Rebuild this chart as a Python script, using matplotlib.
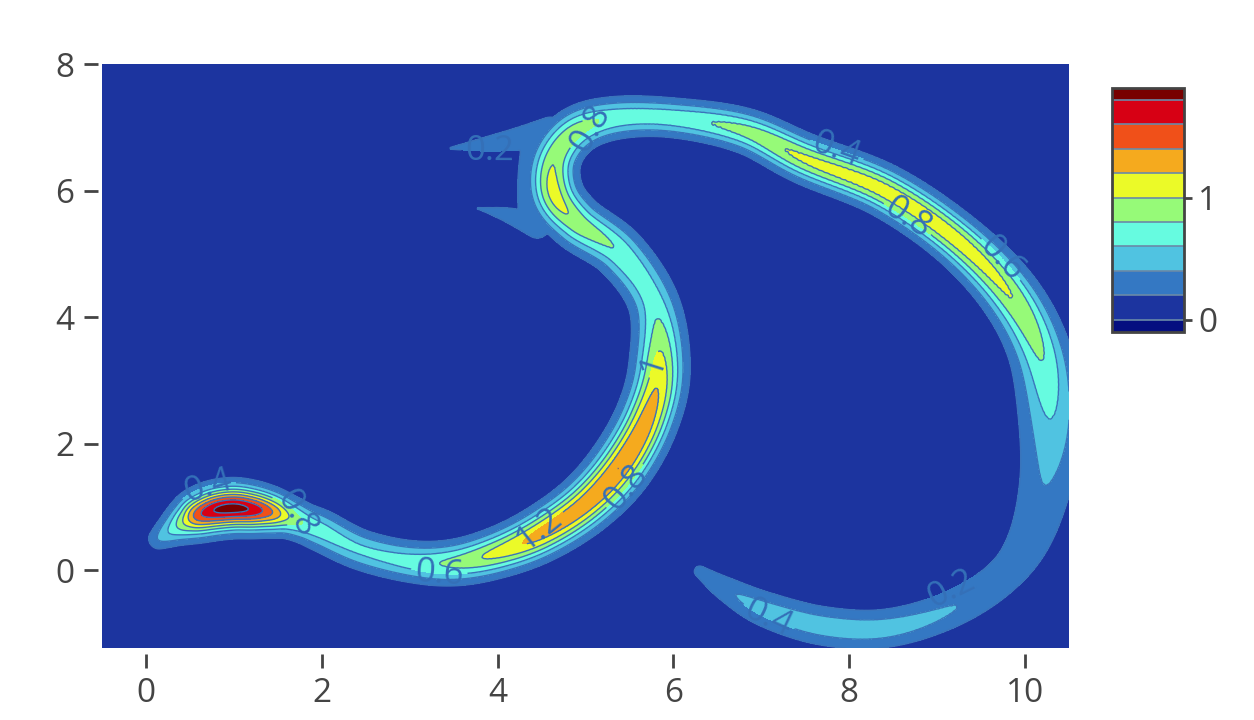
import numpy as np
import matplotlib
matplotlib.use("Agg")
import matplotlib.pyplot as plt

plt.rcParams["font.family"] = ["Open Sans", "DejaVu Sans"]

# ridge of the contour surface: centre x, centre y, peak z, width
main_x = [0.15, 0.35, 0.50, 0.62, 0.80, 1.00, 1.20, 1.40, 1.60, 1.80, 2.00, 2.45, 3.00, 3.50,
          4.00, 4.50, 5.00, 5.40, 5.70, 5.84, 5.78, 5.40, 4.90, 4.65, 4.65, 4.90, 5.35, 6.00,
          6.80, 7.50, 8.40, 9.20, 9.80, 10.15, 10.28, 10.25, 10.05, 9.70, 9.10, 8.40, 7.70,
          7.05, 6.60, 6.30]
main_y = [0.50, 0.68, 0.80, 0.88, 0.95, 0.98, 0.96, 0.92, 0.85, 0.74, 0.62, 0.32, 0.14, 0.12,
          0.28, 0.58, 1.05, 1.65, 2.40, 3.20, 4.20, 5.00, 5.50, 5.95, 6.50, 6.95, 7.15, 7.15,
          6.95, 6.50, 6.00, 5.25, 4.40, 3.50, 2.50, 1.50, 0.50, -0.15, -0.65, -0.92, -0.88,
          -0.62, -0.30, -0.02]
main_z = [0.40, 0.75, 1.15, 1.55, 1.82, 1.885, 1.76, 1.45, 1.02, 0.78, 0.70, 0.64, 0.70, 0.86,
          1.08, 1.28, 1.36, 1.40, 1.32, 1.10, 0.74, 0.78, 0.95, 1.08, 0.98, 0.90, 0.75, 0.74,
          0.88, 1.05, 1.12, 1.12, 1.02, 0.84, 0.62, 0.42, 0.33, 0.33, 0.42, 0.50, 0.51, 0.47,
          0.37, 0.27]
main_w = [0.10, 0.13, 0.15, 0.16, 0.165, 0.165, 0.16, 0.15, 0.14, 0.14, 0.15, 0.15, 0.15, 0.155,
          0.16, 0.17, 0.18, 0.19, 0.19, 0.19, 0.18, 0.18, 0.18, 0.18, 0.17, 0.16, 0.15, 0.14,
          0.15, 0.16, 0.165, 0.17, 0.19, 0.21, 0.24, 0.25, 0.24, 0.20, 0.17, 0.16, 0.16, 0.15,
          0.12, 0.08]

# the thin spurs left of the top of the S
spur1_x = [3.47, 3.85, 4.25, 4.60]
spur1_y = [6.67, 6.73, 6.82, 6.92]
spur1_z = [0.21, 0.29, 0.33, 0.36]
spur1_w = [0.04, 0.09, 0.13, 0.16]

spur2_x = [3.77, 4.10, 4.45]
spur2_y = [5.72, 5.62, 5.45]
spur2_z = [0.21, 0.29, 0.34]
spur2_w = [0.03, 0.09, 0.14]

spur3_x = [4.32, 4.32, 4.35]
spur3_y = [5.70, 6.20, 6.65]
spur3_z = [0.32, 0.32, 0.32]
spur3_w = [0.09, 0.09, 0.09]

levels = [-0.1, 0, 0.2, 0.4, 0.6, 0.8, 1.0, 1.2, 1.4, 1.6, 1.8, 1.9]
band_colors = ["#050f80", "#1c349f", "#3478c3", "#50c3e1", "#66fbe0", "#96fa78",
               "#ebfa28", "#f5aa1e", "#f05019", "#d70014", "#780000"]
line_levels = [0.2, 0.4, 0.6, 0.8, 1.0, 1.2, 1.4, 1.6, 1.8]

# label anchors (x, y, level)
label_spots = [(0.72, 1.26, 0.4), (1.69, 0.87, 0.8), (3.34, 0.05, 0.6), (4.48, 0.66, 1.2),
               (5.44, 1.34, 0.8), (5.81, 3.24, 1.0), (5.07, 6.96, 0.8), (3.91, 6.64, 0.2),
               (7.84, 6.56, 0.4), (8.63, 5.50, 0.8), (9.60, 4.74, 0.6), (7.10, -0.70, 0.4),
               (9.18, -0.36, 0.2)]

xmin, xmax, ymin, ymax = -0.5, 10.5, -1.23, 8.0
ry = 63.25 / 87.8  # y unit in x units on screen


def spline(cols, n=14):
    P = np.column_stack(cols)
    P = np.vstack([P[0], P, P[-1]])
    t = np.linspace(0, 1, n, endpoint=False)[:, None]
    out = []
    for i in range(1, len(P) - 2):
        p0, p1, p2, p3 = P[i - 1], P[i], P[i + 1], P[i + 2]
        out.append(0.5 * (2 * p1 + (-p0 + p2) * t + (2 * p0 - 5 * p1 + 4 * p2 - p3) * t ** 2
                          + (-p0 + 3 * p1 - 3 * p2 + p3) * t ** 3))
    out.append(P[-2][None])
    return np.vstack(out)


gx = np.linspace(xmin, xmax, 520)
gy = np.linspace(ymin, ymax, 440)
X, Y = np.meshgrid(gx, gy)
Z = np.full(X.shape, 0.08)
for cols in [(main_x, main_y, main_z, main_w),
             (spur1_x, spur1_y, spur1_z, spur1_w),
             (spur2_x, spur2_y, spur2_z, spur2_w),
             (spur3_x, spur3_y, spur3_z, spur3_w)]:
    for px, py, pz, pw in spline(cols):
        d2 = (X - px) ** 2 + ((Y - py) * ry) ** 2
        Z = np.maximum(Z, pz * np.exp(-d2 / (2 * pw ** 2)))
Z = np.minimum(Z, 1.89)

fig = plt.figure(figsize=(12.54, 7.2), dpi=100)
ax = fig.add_axes([0.0813, 0.1, 0.7712, 0.811])
cf = ax.contourf(X, Y, Z, levels=levels, colors=band_colors)

# one line set per level so each label snaps to its own level
for lev in line_levels:
    cs = ax.contour(X, Y, Z, levels=[lev], colors="#3a74bb", linewidths=1.0)
    spots = [(x, y) for x, y, l in label_spots if l == lev]
    if spots:
        ax.clabel(cs, manual=spots, inline=True, inline_spacing=4,
                  fmt=lambda v: f"{v:g}", fontsize=25, colors="#3470b8")

ax.set_xlim(xmin, xmax)
ax.set_ylim(ymin, ymax)
ax.set_xticks([0, 2, 4, 6, 8, 10])
ax.set_yticks([0, 2, 4, 6, 8])
for s in ax.spines.values():
    s.set_visible(False)
ax.spines["bottom"].set_position(("outward", 4))
ax.spines["left"].set_position(("outward", 3))
ax.tick_params(length=10, width=2, color="#444444", labelcolor="#444444",
               labelsize=24, pad=7)

cax = fig.add_axes([0.887, 0.539, 0.0574, 0.339])
cbar = fig.colorbar(cf, cax=cax, spacing="proportional", ticks=[0, 1])
cbar.set_ticklabels(["0", "1"])
for lev in line_levels + [0]:
    cax.axhline(lev, color="#6a8aa8", lw=1.2)
cbar.outline.set_edgecolor("#444444")
cbar.outline.set_linewidth(2)
cax.tick_params(length=6, width=2, color="#444444", labelcolor="#444444",
                labelsize=24, pad=4)

fig.savefig("out.png", dpi=100)
